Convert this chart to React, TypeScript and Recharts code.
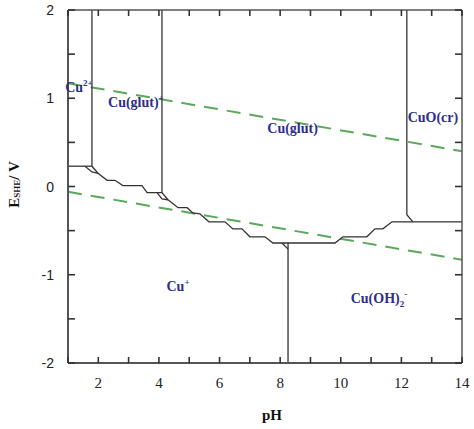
import React from 'react';
import { ComposedChart, Line, Scatter, XAxis, YAxis } from 'recharts';

const phTicks = [1, 2, 3, 4, 5, 6, 7, 8, 9, 10, 11, 12, 13, 14];
const eTicks = [-2, -1.5, -1, -0.5, 0, 0.5, 1, 1.5, 2];

const waterUpper = [{ pH: 1, E: 1.17 }, { pH: 14, E: 0.4 }];
const waterLower = [{ pH: 1, E: -0.06 }, { pH: 14, E: -0.83 }];

const cu2Top = [{ pH: 1, E: 0.23 }, { pH: 1.79, E: 0.23 }];
const vGlut1 = [{ pH: 1.79, E: 2 }, { pH: 1.79, E: 0.23 }];
const vGlut2 = [{ pH: 4.1, E: 2 }, { pH: 4.1, E: -0.07 }];
const vCuO = [{ pH: 12.18, E: 2 }, { pH: 12.18, E: -0.32 }, { pH: 12.38, E: -0.4 }];
const vCuOH = [{ pH: 8.26, E: -0.64 }, { pH: 8.26, E: -2 }];

const stair = [
  { pH: 1.79, E: 0.23 },
  { pH: 1.99, E: 0.15 },
  { pH: 2.29, E: 0.07 },
  { pH: 2.55, E: 0.07 },
  { pH: 2.81, E: 0.01 },
  { pH: 3.44, E: 0.01 },
  { pH: 3.61, E: -0.07 },
  { pH: 4.1, E: -0.07 },
  { pH: 4.3, E: -0.15 },
  { pH: 4.63, E: -0.24 },
  { pH: 4.93, E: -0.24 },
  { pH: 5.12, E: -0.3 },
  { pH: 5.35, E: -0.31 },
  { pH: 5.65, E: -0.4 },
  { pH: 6.18, E: -0.4 },
  { pH: 6.44, E: -0.48 },
  { pH: 6.74, E: -0.48 },
  { pH: 7.0, E: -0.57 },
  { pH: 7.5, E: -0.57 },
  { pH: 7.76, E: -0.64 },
  { pH: 9.81, E: -0.64 },
  { pH: 10.07, E: -0.57 },
  { pH: 10.86, E: -0.57 },
  { pH: 11.13, E: -0.48 },
  { pH: 11.39, E: -0.48 },
  { pH: 11.69, E: -0.4 },
  { pH: 14, E: -0.4 },
];

const notch1 = [{ pH: 1.56, E: 0.23 }, { pH: 1.79, E: 0.165 }, { pH: 1.99, E: 0.15 }];
const notch2 = [{ pH: 3.94, E: -0.07 }, { pH: 4.1, E: -0.14 }, { pH: 4.3, E: -0.15 }];
const notch3 = [{ pH: 8.06, E: -0.64 }, { pH: 8.26, E: -0.71 }];

const speciesLabels = [
  { pH: 1.36, E: 1.07, base: 'Cu', sup: '2+', sub: '' },
  { pH: 3.24, E: 0.9, base: 'Cu(glut)', sup: '+', sub: '' },
  { pH: 8.41, E: 0.606, base: 'Cu(glut)', sup: '', sub: '' },
  { pH: 13.04, E: 0.73, base: 'CuO(cr)', sup: '', sub: '' },
  { pH: 4.63, E: -1.18, base: 'Cu', sup: '+', sub: '' },
  { pH: 11.26, E: -1.32, base: 'Cu(OH)', sup: '-', sub: '2' },
];

const lineColor = '#333';
const axisColor = '#555';
const tickColor = '#333';
const green = '#5aa85a';
const labelBlue = '#2e2e8a';

const BOTTOM_GAP = 20;
const LEFT_GAP = 14;

const BottomTick = (props: any) => {
  const { x, y, payload } = props;
  const axisY = y - BOTTOM_GAP;
  return (
    <g>
      <line x1={x} x2={x} y1={axisY} y2={axisY - 6} stroke={tickColor} strokeWidth={1.6} />
      {payload.value % 2 === 0 ? (
        <text x={x} y={y} dy={5} textAnchor="middle" fontFamily="Liberation Serif" fontSize={15} fill="#222">
          {payload.value}
        </text>
      ) : null}
    </g>
  );
};

const TopTick = (props: any) => {
  const { x, y } = props;
  return <line x1={x} x2={x} y1={y} y2={y + 6} stroke={tickColor} strokeWidth={1.6} />;
};

const LeftTick = (props: any) => {
  const { x, y, payload } = props;
  const axisX = x + LEFT_GAP;
  const v = payload.value < 0 ? '-' + Math.abs(payload.value) : String(payload.value);
  return (
    <g>
      <line x1={axisX} x2={axisX + 7} y1={y} y2={y} stroke={tickColor} strokeWidth={1.6} />
      {Number.isInteger(payload.value) ? (
        <text x={x} y={y} dy={5} textAnchor="end" fontFamily="Liberation Sans" fontSize={14} fill="#222">
          {v}
        </text>
      ) : null}
    </g>
  );
};

const RightTick = (props: any) => {
  const { x, y } = props;
  return <line x1={x} x2={x - 7} y1={y} y2={y} stroke={tickColor} strokeWidth={1.6} />;
};

const SpeciesShape = (props: any) => {
  const { cx, cy, payload } = props;
  return (
    <text x={cx} y={cy} textAnchor="middle" fontFamily="Liberation Serif" fontWeight="bold" fontSize={14} fill={labelBlue}>
      {payload.base}
      {payload.sub ? (
        <tspan fontSize={9} dy={4}>{payload.sub}</tspan>
      ) : null}
      {payload.sup ? (
        <tspan fontSize={9} dy={payload.sub ? -10 : -6}>{payload.sup}</tspan>
      ) : null}
    </text>
  );
};

const YLabel = (props: any) => {
  const vb = props.viewBox || { x: 8, y: 10, width: 60, height: 353 };
  const cx = vb.x + 6;
  const cy = vb.y + vb.height / 2 - 2;
  return (
    <text
      x={cx}
      y={cy}
      transform={`rotate(-90 ${cx} ${cy})`}
      textAnchor="middle"
      dominantBaseline="central"
      fontFamily="Liberation Serif"
      fontWeight="bold"
      fontSize={15}
      fill="#111"
    >
      E<tspan fontSize={9} dy={3}>SHE</tspan>
      <tspan dy={-3}>/ V</tspan>
    </text>
  );
};

const XLabel = (props: any) => {
  const vb = props.viewBox || { x: 68, y: 363, width: 394, height: 50 };
  const cx = vb.x + vb.width / 2 + 7;
  return (
    <text x={cx} y={420} textAnchor="middle" fontFamily="Liberation Serif" fontWeight="bold" fontSize={15} fill="#111">
      pH
    </text>
  );
};

const segs = [cu2Top, vGlut1, vGlut2, vCuO, vCuOH, stair, notch1, notch2, notch3];

export default function App() {
  return (
    <div style={{ position: 'absolute', left: 0, top: 0 }}>
      <ComposedChart width={474} height={429} margin={{ top: 8, right: 10, left: 8, bottom: 16 }}>
        <XAxis
          xAxisId="bottom"
          dataKey="pH"
          type="number"
          domain={[1, 14]}
          ticks={phTicks}
          interval={0}
          height={50}
          tickSize={0}
          tickMargin={BOTTOM_GAP}
          axisLine={{ stroke: axisColor, strokeWidth: 2 }}
          tickLine={false}
          tick={BottomTick}
          label={<XLabel />}
        />
        <XAxis
          xAxisId="top"
          orientation="top"
          dataKey="pH"
          type="number"
          domain={[1, 14]}
          ticks={phTicks}
          interval={0}
          height={2}
          tickSize={0}
          tickMargin={0}
          axisLine={{ stroke: axisColor, strokeWidth: 1.5 }}
          tickLine={false}
          tick={TopTick}
        />
        <YAxis
          yAxisId="left"
          dataKey="E"
          type="number"
          domain={[-2, 2]}
          ticks={eTicks}
          interval={0}
          width={60}
          tickSize={0}
          tickMargin={LEFT_GAP}
          axisLine={{ stroke: axisColor, strokeWidth: 2 }}
          tickLine={false}
          tick={LeftTick}
          label={<YLabel />}
        />
        <YAxis
          yAxisId="right"
          orientation="right"
          dataKey="E"
          type="number"
          domain={[-2, 2]}
          ticks={eTicks}
          interval={0}
          width={2}
          tickSize={0}
          tickMargin={0}
          axisLine={{ stroke: axisColor, strokeWidth: 1.5 }}
          tickLine={false}
          tick={RightTick}
        />
        <Line
          xAxisId="top"
          yAxisId="right"
          data={waterUpper}
          dataKey="E"
          stroke={green}
          strokeWidth={2}
          strokeDasharray="14 9"
          dot={false}
          activeDot={false}
          isAnimationActive={false}
        />
        <Line
          xAxisId="bottom"
          yAxisId="left"
          data={waterLower}
          dataKey="E"
          stroke={green}
          strokeWidth={2}
          strokeDasharray="14 9"
          dot={false}
          activeDot={false}
          isAnimationActive={false}
        />
        {segs.map((s, i) => (
          <Line
            key={i}
            xAxisId="bottom"
            yAxisId="left"
            data={s}
            dataKey="E"
            stroke={lineColor}
            strokeWidth={1.3}
            dot={false}
            activeDot={false}
            isAnimationActive={false}
          />
        ))}
        <Scatter
          xAxisId="bottom"
          yAxisId="left"
          data={speciesLabels}
          dataKey="E"
          shape={SpeciesShape}
          isAnimationActive={false}
        />
      </ComposedChart>
    </div>
  );
}
